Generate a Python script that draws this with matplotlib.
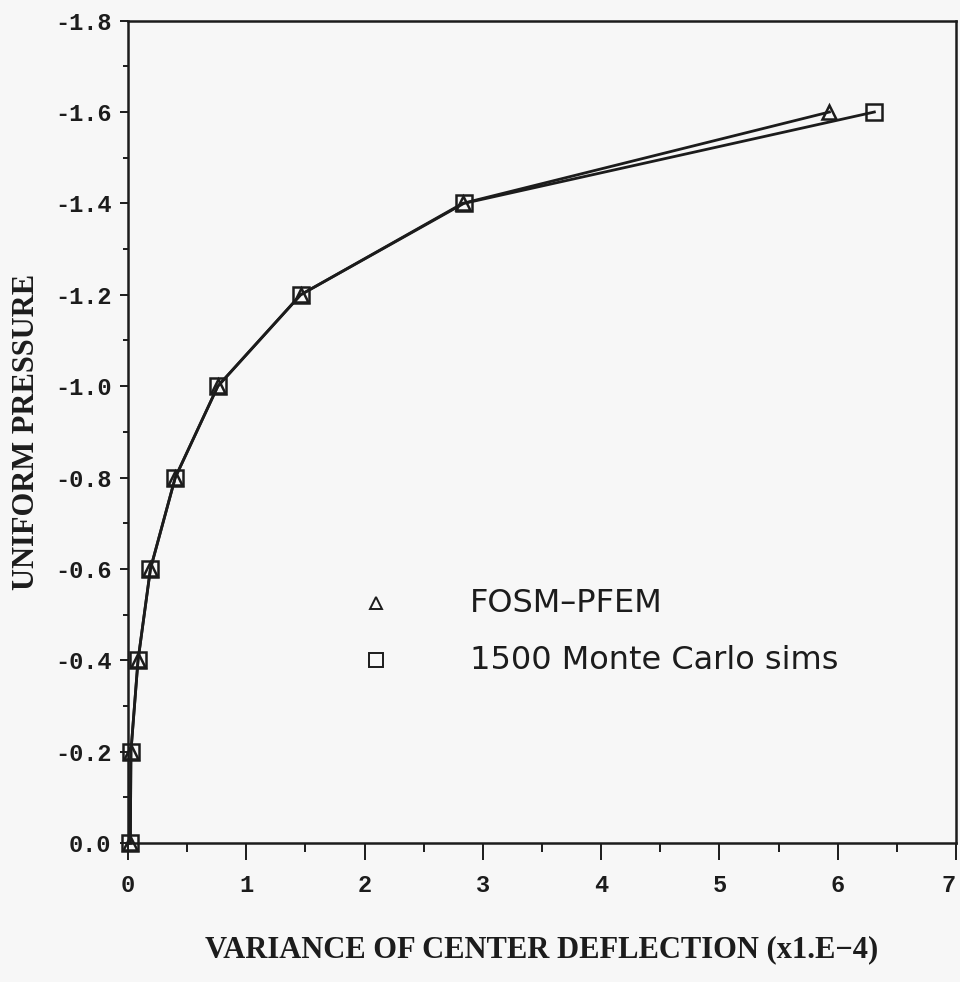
import matplotlib

matplotlib.use("Agg")
import matplotlib.pyplot as plt
from matplotlib.ticker import MultipleLocator

# variance of center deflection (x1.E-4) vs. uniform pressure
pressure = [0.0, -0.2, -0.4, -0.6, -0.8, -1.0, -1.2, -1.4, -1.6]
var_fosm = [0.02, 0.025, 0.085, 0.19, 0.40, 0.76, 1.46, 2.83, 5.93]
var_mc = [0.02, 0.025, 0.085, 0.19, 0.40, 0.76, 1.46, 2.84, 6.31]

x_ticks = [0, 1, 2, 3, 4, 5, 6, 7]
y_ticks = [0.0, -0.2, -0.4, -0.6, -0.8, -1.0, -1.2, -1.4, -1.6, -1.8]

ink = "#1c1c1c"
paper = "#f7f7f7"

fig = plt.figure(figsize=(9.6, 9.82), dpi=100, facecolor=paper)
ax = fig.add_axes([0.1333, 0.1415, 0.8625, 0.8375], facecolor=paper)

ax.plot(var_fosm, pressure, color=ink, lw=2.0, marker="^", ms=10,
        mfc="none", mec=ink, mew=1.8, clip_on=False, zorder=3)
ax.plot(var_mc, pressure, color=ink, lw=2.0, marker="s", ms=12,
        mfc="none", mec=ink, mew=1.8, clip_on=False, zorder=3)

ax.set_xlim(0, 7)
ax.set_ylim(0, -1.8)
ax.set_xticks(x_ticks)
ax.set_yticks(y_ticks)
ax.xaxis.set_minor_locator(MultipleLocator(0.5))
ax.yaxis.set_minor_locator(MultipleLocator(0.1))

tick_font = dict(family="Liberation Mono", size=17, weight="bold")
ax.set_xticklabels([str(v) for v in x_ticks], **tick_font)
ax.set_yticklabels(["%.1f" % v for v in y_ticks], **tick_font)
# last x label sits against the right edge of the figure
ax.get_xticklabels()[-1].set_horizontalalignment("right")

ax.tick_params(axis="x", which="major", direction="out", length=12, width=1.4,
               color=ink, labelcolor=ink, pad=10)
ax.tick_params(axis="x", which="minor", direction="out", length=6.5, width=1.4,
               color=ink)
ax.tick_params(axis="y", which="major", direction="out", length=6, width=1.4,
               color=ink, labelcolor=ink, pad=6)
ax.tick_params(axis="y", which="minor", direction="out", length=3.5, width=1.4,
               color=ink)
for spine in ax.spines.values():
    spine.set_linewidth(1.8)
    spine.set_color(ink)

label_font = dict(family="Liberation Serif", weight="bold", size=22, color=ink)
ax.set_xlabel("VARIANCE OF CENTER DEFLECTION (x1.E\u22124)", labelpad=28, **label_font)
ax.set_ylabel("UNIFORM PRESSURE", labelpad=10, **label_font)

# hand-placed key, as on the original plot
legend_font = dict(family="DejaVu Sans", size=23, color=ink, va="center")
ax.plot([2.10], [-0.525], marker="^", ms=9, mfc="none",
        mec=ink, mew=1.4, ls="none")
ax.plot([2.10], [-0.40], marker="s", ms=10, mfc="none",
        mec=ink, mew=1.4, ls="none")
ax.text(2.89, -0.525, "FOSM\u2013PFEM", **legend_font)
ax.text(2.89, -0.40, "1500 Monte Carlo sims", **legend_font)

fig.savefig("out.png", dpi=100, facecolor=paper)
